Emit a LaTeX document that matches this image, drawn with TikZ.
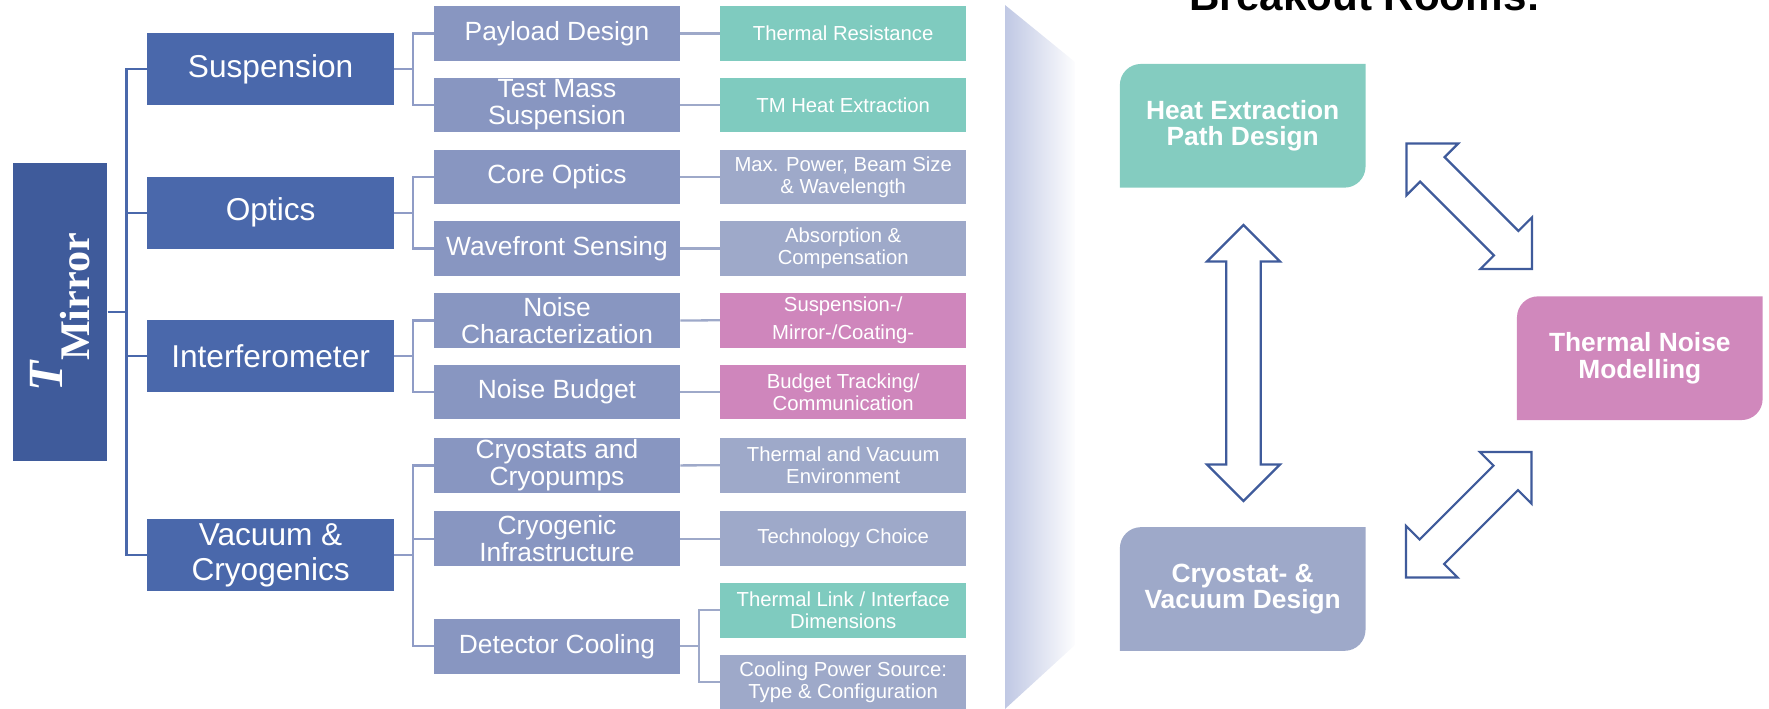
\documentclass[tikz,border=0pt]{standalone}
\usepackage{fontspec}
\setmainfont{Liberation Sans}
\newfontfamily\mirrorfont{Liberation Serif}
\usetikzlibrary{backgrounds}
\definecolor{mirrorblue}{HTML}{3F5B9B}
\definecolor{sectblue}{HTML}{4A68AB}
\definecolor{subblue}{HTML}{8896C1}
\definecolor{branchblue}{HTML}{8F9CC6}
\definecolor{leafgray}{HTML}{9EA9C9}
\definecolor{leafteal}{HTML}{7FCBBF}
\definecolor{leafpink}{HTML}{CF86BC}
\definecolor{roomteal}{HTML}{84CCC0}
\definecolor{roompink}{HTML}{D088BC}
\definecolor{roomgray}{HTML}{9EA9C9}
\definecolor{wedgeblue}{HTML}{C0C8E4}
\definecolor{arrowblue}{HTML}{3F5B9B}

\begin{document}
\begin{tikzpicture}[x=0.02cm, y=-0.02cm,
  mirror/.style={fill=mirrorblue, text=white, rotate=90, minimum width=5.98cm, minimum height=1.892cm, inner sep=0pt},
  sect/.style={fill=sectblue, text=white, minimum width=4.93cm, minimum height=1.44cm, inner sep=0pt, align=center, font=\fontsize{18}{20}\selectfont},
  sub/.style={fill=subblue, text=white, minimum width=4.92cm, minimum height=1.09cm, inner sep=0pt, align=center, font=\fontsize{15}{15.2}\selectfont},
  leaf/.style={text=white, minimum width=4.92cm, minimum height=1.09cm, inner sep=0pt, align=center, font=\fontsize{11.55}{12.3}\selectfont},
  room/.style={text=white, minimum width=4.9cm, minimum height=2.46cm, inner sep=0pt, align=center, font=\bfseries\fontsize{15}{15.1}\selectfont},
  trunk/.style={draw=sectblue, line width=1.3pt},
  branch/.style={draw=branchblue, line width=1.3pt},
  twig/.style={draw=leafgray, line width=1.3pt},
  bigarrow/.style={draw=arrowblue, line width=1.25pt, fill=white, line join=miter},
  pics/dblarrow/.style={code={
    \path[bigarrow] (-#1,0) -- (-#1+36.5,-36.5) -- (-#1+36.5,-17.3) -- (#1-36.5,-17.3) -- (#1-36.5,-36.5) -- (#1,0)
      -- (#1-36.5,36.5) -- (#1-36.5,17.3) -- (-#1+36.5,17.3) -- (-#1+36.5,36.5) -- cycle;
  }}
]
\useasboundingbox (0,0) rectangle (1769,709);

\shade[left color=wedgeblue, right color=white!96!wedgeblue] (1005,5) -- (1075,62) -- (1075,645) -- (1005,709) -- cycle;

\node[mirror] (mirror) at (60,312) {{\mirrorfont\bfseries\itshape\fontsize{28}{28}\selectfont T}{\mirrorfont\bfseries\fontsize{24}{24}\selectfont\raisebox{-15.4pt}{Mirror}}\hspace{6pt}};

\node[sect] (susp) at (270.6,69.3) {Suspension};
\node[sect] (optics) at (270.6,212.7) {Optics};
\node[sect] (ifo) at (270.6,356.2) {Interferometer};
\node[sect] (vac) at (270.6,555) {Vacuum \&\\Cryogenics};

\node[sub] (payload) at (557,33.4) {Payload Design};
\node[sub] (tmsus) at (557,105) {Test Mass\\Suspension};
\node[sub] (core) at (557,177) {Core Optics};
\node[sub] (wfs) at (557,248.4) {Wavefront Sensing};
\node[sub] (nchar) at (557,320.5) {Noise\\Characterization};
\node[sub] (nbud) at (557,392) {Noise Budget};
\node[sub] (cryop) at (557,465.4) {Cryostats and\\Cryopumps};
\node[sub] (infra) at (557,538.7) {Cryogenic\\Infrastructure};
\node[sub] (detcool) at (557,646.3) {Detector Cooling};

\node[leaf, fill=leafteal] (tres) at (843.2,33.4) {Thermal Resistance};
\node[leaf, fill=leafteal] (tmheat) at (843.2,105) {TM Heat Extraction};
\node[leaf, fill=leafgray] (power) at (843.2,177) {Max. Power, Beam Size\\\& Wavelength};
\node[leaf, fill=leafgray] (absorb) at (843.2,248.4) {Absorption \&\\Compensation};
\node[leaf, fill=leafpink, font=\fontsize{11.55}{16}\selectfont] (tnoise) at (843.2,320.3) {Suspension-/\\Mirror-/Coating-};
\node[leaf, fill=leafpink] (track) at (843.2,392) {Budget Tracking/\\Communication};
\node[leaf, fill=leafgray] (env) at (843.2,465.3) {Thermal and Vacuum\\Environment};
\node[leaf, fill=leafgray] (tech) at (843.2,538.7) {Technology Choice};
\node[leaf, fill=leafteal] (link) at (843.2,610.3) {Thermal Link / Interface\\Dimensions};
\node[leaf, fill=leafgray] (source) at (843.2,682) {Cooling Power Source:\\Type \& Configuration};

\draw[trunk] (mirror.south) -- ++(19.7,0);
\draw[trunk] (susp.west) -- ++(-20.4,0) |- (vac.west);
\draw[trunk] (optics.west) -- ++(-20.4,0);
\draw[trunk] (ifo.west) -- ++(-20.4,0);

\draw[branch] (susp.east) -- ++(19.8,0);
\draw[branch] (payload.west) -- ++(-20.4,0) |- (tmsus.west);
\draw[branch] (optics.east) -- ++(19.8,0);
\draw[branch] (core.west) -- ++(-20.4,0) |- (wfs.west);
\draw[branch] (ifo.east) -- ++(19.8,0);
\draw[branch] (nchar.west) -- ++(-20.4,0) |- (nbud.west);
\draw[branch] (vac.east) -- ++(19.8,0);
\draw[branch] (cryop.west) -- ++(-20.4,0) |- (detcool.west);
\draw[branch] (infra.west) -- ++(-20.4,0);

\foreach \a/\b in {payload/tres, tmsus/tmheat, core/power, wfs/absorb, nchar/tnoise, nbud/track, cryop/env, infra/tech}
  \draw[twig] (\a.east) -- (\b.west);
\draw[twig] (detcool.east) -- ++(20,0);
\draw[twig] (link.west) -- ++(-20.7,0) |- (source.west);

\node[font=\bfseries\fontsize{24}{24}\selectfont, anchor=base] (rooms) at (1365,11) {Breakout Rooms:};

\node[room] (heat) at (1242.7,125.8) {Heat Extraction\\Path Design};
\node[room] (noise) at (1639.8,358.2) {Thermal Noise\\Modelling};
\node[room] (cryo) at (1242.7,589) {Cryostat- \&\\Vacuum Design};

\begin{scope}[on background layer]
\foreach \r/\c in {heat/roomteal, noise/roompink, cryo/roomgray}
  \fill[\c] (\r.south west) -- ([yshift=-0.42cm]\r.north west) arc[start angle=180, end angle=90, radius=0.42cm]
    -- (\r.north east) -- ([yshift=0.42cm]\r.south east) arc[start angle=0, end angle=-90, radius=0.42cm] -- cycle;
\end{scope}

\pic[rotate=90] at (1243.5,363) {dblarrow=138};
\pic[rotate=-45] at (1469.3,206.3) {dblarrow=88.7};
\pic[rotate=45] at (1468.8,514.8) {dblarrow=88.7};
\end{tikzpicture}
\end{document}
